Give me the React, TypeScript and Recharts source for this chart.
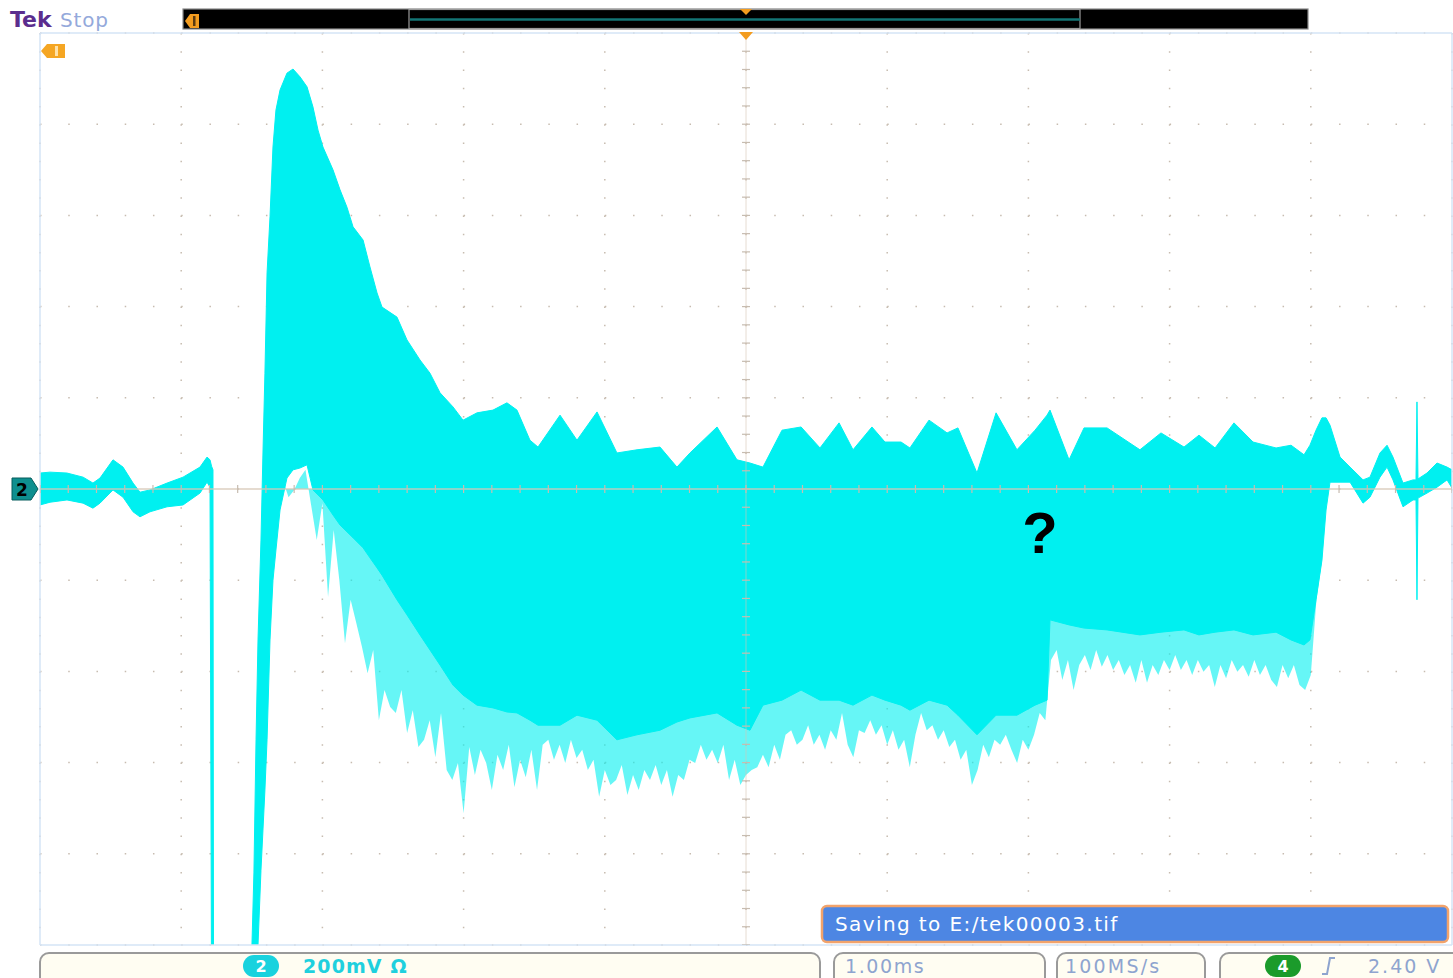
import React from 'react';
import { ComposedChart, Area, XAxis, YAxis, CartesianGrid, ReferenceLine, Scatter } from 'recharts';

// Channel 2 acquisition, time in ms (1.00 ms/div), voltage in mV (200 mV/div)
const ENV_T = [
  -5.0, -4.929, -4.809, -4.695, -4.625, -4.575, -4.483, -4.412, -4.341, -4.292,
  -4.221, -4.1, -3.987, -3.867, -3.817, -3.796, -3.785, -3.775, -3.771, -3.506,
  -3.499, -3.485, -3.47, -3.456, -3.435, -3.421, -3.407, -3.392, -3.371, -3.35,
  -3.329, -3.3, -3.251, -3.208, -3.159, -3.109, -3.067, -3.031, -2.996, -2.925,
  -2.875, -2.826, -2.783, -2.712, -2.663, -2.613, -2.578, -2.472, -2.401, -2.309,
  -2.238, -2.167, -2.075, -2.004, -1.905, -1.792, -1.693, -1.622, -1.53, -1.473,
  -1.317, -1.197, -1.055, -0.914, -0.772, -0.609, -0.489, -0.397, -0.205, -0.064,
  0.028, 0.12, 0.255, 0.39, 0.524, 0.659, 0.758, 0.892, 0.984, 1.098,
  1.161, 1.296, 1.424, 1.501, 1.636, 1.771, 1.919, 2.047, 2.132, 2.153,
  2.288, 2.394, 2.557, 2.79, 2.939, 3.102, 3.208, 3.322, 3.456, 3.591,
  3.754, 3.86, 3.952, 3.994, 4.037, 4.079, 4.108, 4.136, 4.207, 4.278,
  4.37, 4.419, 4.49, 4.54, 4.582, 4.653, 4.724, 4.745, 4.752, 4.759,
  4.823, 4.894, 4.965, 5.0,
];
const ENV_HI = [
  35, 37, 35, 26, 13, 24, 64, 48, 13, -7,
  -2, 13, 26, 48, 70, 64, 50, 42, -1090, -1090,
  -1000, -842, -550, -331, -112, 79, 254, 474, 597, 750,
  831, 875, 912, 921, 904, 882, 838, 787, 750, 700,
  656, 618, 575, 546, 487, 430, 399, 377, 327, 283,
  254, 211, 180, 151, 167, 173, 189, 173, 107, 92,
  162, 107, 169, 79, 86, 92, 48, 79, 136, 64,
  57, 48, 129, 136, 90, 145, 86, 136, 103, 103,
  90, 151, 123, 134, 35, 167, 86, 129, 162, 173,
  64, 134, 134, 86, 123, 92, 118, 90, 145, 103,
  90, 96, 75, 96, 129, 156, 156, 140, 70, 48,
  20, 26, 79, 96, 70, 13, 20, 20, 191, 22,
  35, 57, 48, 42,
];
const ENV_LO = [
  -35, -29, -24, -31, -42, -31, -2, -18, -50, -61,
  -50, -39, -35, -9, 15, 4, -1100, -1100, -1100, -1100,
  -1100, -1100, -1100, -1000, -836, -748, -660, -550, -331, -200,
  -134, -46, 24, 42, 46, 53, -2, -13, -24, -57,
  -79, -94, -107, -129, -151, -173, -189, -243, -276, -320,
  -353, -386, -430, -452, -474, -480, -489, -491, -507, -518,
  -518, -496, -507, -550, -539, -529, -511, -502, -491, -518,
  -529, -474, -463, -441, -463, -463, -474, -452, -463, -474,
  -485, -463, -474, -496, -539, -496, -496, -474, -463, -287,
  -298, -305, -309, -320, -314, -309, -320, -314, -309, -320,
  -314, -331, -342, -331, -243, -156, -46, 15, 15, 15,
  -31, -18, 26, 48, 20, -39, -24, -24, -243, -20,
  -9, 4, 20, 2,
];

// lighter ringing spikes below the burst (sampled every 0.04 ms)
const FRINGE_T = [
  -3.28, -3.24, -3.2, -3.16, -3.12, -3.08, -3.04, -3.0, -2.96, -2.92,
  -2.88, -2.84, -2.8, -2.76, -2.72, -2.68, -2.64, -2.6, -2.56, -2.52,
  -2.48, -2.44, -2.4, -2.36, -2.32, -2.28, -2.24, -2.2, -2.16, -2.12,
  -2.08, -2.04, -2.0, -1.96, -1.92, -1.88, -1.84, -1.8, -1.76, -1.72,
  -1.68, -1.64, -1.6, -1.56, -1.52, -1.48, -1.44, -1.4, -1.36, -1.32,
  -1.28, -1.24, -1.2, -1.16, -1.12, -1.08, -1.04, -1.0, -0.96, -0.92,
  -0.88, -0.84, -0.8, -0.76, -0.72, -0.68, -0.64, -0.6, -0.56, -0.52,
  -0.48, -0.44, -0.4, -0.36, -0.32, -0.28, -0.24, -0.2, -0.16, -0.12,
  -0.08, -0.04, 0.0, 0.04, 0.08, 0.12, 0.16, 0.2, 0.24, 0.28,
  0.32, 0.36, 0.4, 0.44, 0.48, 0.52, 0.56, 0.6, 0.64, 0.68,
  0.72, 0.76, 0.8, 0.84, 0.88, 0.92, 0.96, 1.0, 1.04, 1.08,
  1.12, 1.16, 1.2, 1.24, 1.28, 1.32, 1.36, 1.4, 1.44, 1.48,
  1.52, 1.56, 1.6, 1.64, 1.68, 1.72, 1.76, 1.8, 1.84, 1.88,
  1.92, 1.96, 2.0, 2.04, 2.08, 2.12, 2.16, 2.2, 2.24, 2.28,
  2.32, 2.36, 2.4, 2.44, 2.48, 2.52, 2.56, 2.6, 2.64, 2.68,
  2.72, 2.76, 2.8, 2.84, 2.88, 2.92, 2.96, 3.0, 3.04, 3.08,
  3.12, 3.16, 3.2, 3.24, 3.28, 3.32, 3.36, 3.4, 3.44, 3.48,
  3.52, 3.56, 3.6, 3.64, 3.68, 3.72, 3.76, 3.8, 3.84, 3.88,
  3.92, 3.96, 4.0, 4.04, 4.08,
];
const FRINGE_LO = [
  20, -18, -2, 24, 42, -35, -112, -31, -237, -90,
  -200, -338, -243, -294, -346, -404, -353, -507, -441, -478,
  -491, -441, -535, -485, -566, -550, -507, -588, -491, -616,
  -638, -601, -711, -566, -627, -572, -601, -660, -583, -616,
  -561, -654, -594, -632, -572, -660, -561, -550, -594, -561,
  -601, -550, -590, -572, -616, -594, -675, -616, -649, -638,
  -605, -671, -627, -660, -616, -638, -605, -649, -616, -675,
  -627, -638, -594, -601, -561, -594, -572, -601, -561, -638,
  -594, -649, -627, -616, -610, -583, -610, -561, -594, -539,
  -529, -561, -550, -518, -561, -539, -572, -529, -550, -491,
  -561, -588, -529, -535, -507, -539, -518, -561, -529, -572,
  -550, -610, -539, -491, -529, -518, -550, -529, -566, -550,
  -594, -572, -649, -616, -561, -588, -550, -561, -539, -572,
  -601, -550, -572, -539, -491, -507, -375, -353, -419, -375,
  -441, -386, -364, -397, -353, -390, -364, -397, -375, -408,
  -386, -425, -375, -425, -386, -408, -375, -397, -364, -397,
  -375, -408, -375, -401, -386, -434, -386, -415, -375, -401,
  -386, -412, -375, -408, -386, -419, -434, -386, -415, -386,
  -430, -441, -408, -243, -156,
];

const GRID_T = [-5, -4, -3, -2, -1, 0, 1, 2, 3, 4, 5];
const GRID_V = [-1000, -800, -600, -400, -200, 0, 200, 400, 600, 800, 1000];
const MINOR_T = [
  -5, -4.8, -4.6, -4.4, -4.2, -4, -3.8, -3.6, -3.4, -3.2, -3, -2.8, -2.6, -2.4, -2.2, -2,
  -1.8, -1.6, -1.4, -1.2, -1, -0.8, -0.6, -0.4, -0.2, 0, 0.2, 0.4, 0.6, 0.8, 1, 1.2, 1.4,
  1.6, 1.8, 2, 2.2, 2.4, 2.6, 2.8, 3, 3.2, 3.4, 3.6, 3.8, 4, 4.2, 4.4, 4.6, 4.8, 5,
];
const MINOR_V = [
  -1000, -960, -920, -880, -840, -800, -760, -720, -680, -640, -600, -560, -520, -480,
  -440, -400, -360, -320, -280, -240, -200, -160, -120, -80, -40, 0, 40, 80, 120, 160,
  200, 240, 280, 320, 360, 400, 440, 480, 520, 560, 600, 640, 680, 720, 760, 800, 840,
  880, 920, 960, 1000,
];

const envelope = ENV_T.map((t, i) => ({ t, lo: ENV_LO[i], hi: ENV_HI[i] }));
const fringe = FRINGE_T.map((t, i) => ({ t, sp: FRINGE_LO[i] }));
const hTicks = MINOR_T.map((t) => ({ t, v: 0 }));
const vTicks = MINOR_V.map((v) => ({ t: 0, v }));

const TRACE = '#00f0f0';
const GRAT = '#c7bcb0';
const FONT = '"DejaVu Sans", "Liberation Sans", sans-serif';
const INFO = '#8ea4cf';

const HTick = (p: any) => (
  <line x1={p.cx} x2={p.cx} y1={p.cy - 4} y2={p.cy + 4} stroke={GRAT} strokeWidth={1.2} />
);
const VTick = (p: any) => (
  <line x1={p.cx - 4} x2={p.cx + 4} y1={p.cy} y2={p.cy} stroke={GRAT} strokeWidth={1.2} />
);

export default function App() {
  return (
    <div style={{ position: 'absolute', left: 0, top: 0, width: 1453, height: 978, background: '#fff', overflow: 'hidden' }}>
      <ComposedChart width={1453} height={978} margin={{ top: 33, right: 1, bottom: 33, left: 40 }}>
        <XAxis type="number" dataKey="t" domain={[-5, 5]} ticks={GRID_T} hide allowDataOverflow />
        <YAxis type="number" dataKey="v" domain={[-1000, 1000]} ticks={GRID_V} hide allowDataOverflow />
        <XAxis xAxisId="top" orientation="top" mirror type="number" domain={[-5, 5]} ticks={MINOR_T}
          interval={0} height={0} axisLine={false} tick={false} tickSize={5} stroke={GRAT} allowDataOverflow />
        <XAxis xAxisId="bottom" orientation="bottom" mirror type="number" domain={[-5, 5]} ticks={MINOR_T}
          interval={0} height={0} axisLine={false} tick={false} tickSize={5} stroke={GRAT} allowDataOverflow />
        <YAxis yAxisId="left" orientation="left" mirror type="number" domain={[-1000, 1000]} ticks={MINOR_V}
          interval={0} width={0} axisLine={false} tick={false} tickSize={5} stroke={GRAT} allowDataOverflow />
        <YAxis yAxisId="right" orientation="right" mirror type="number" domain={[-1000, 1000]} ticks={MINOR_V}
          interval={0} width={0} axisLine={false} tick={false} tickSize={5} stroke={GRAT} allowDataOverflow />

        <Area data={fringe} dataKey="sp" baseValue={0} type="linear" stroke="none" fill={TRACE}
          fillOpacity={0.6} isAnimationActive={false} />
        <Area data={envelope} dataKey={(d: any) => [d.lo, d.hi]} type="linear" stroke={TRACE} strokeWidth={1}
          fill={TRACE} fillOpacity={1} isAnimationActive={false} />

        <CartesianGrid horizontal={false} stroke={GRAT} strokeWidth={1.5} strokeDasharray="1.5 16.74" />
        <CartesianGrid vertical={false} stroke={GRAT} strokeWidth={1.5} strokeDasharray="1.5 26.74" />
        <ReferenceLine y={0} stroke="#d6c7b5" strokeWidth={1.5} strokeOpacity={0.85} />
        <ReferenceLine x={0} stroke="#d6c7b5" strokeWidth={1} strokeOpacity={0.6} />
        <ReferenceLine x={-5} stroke="#d4e4f6" strokeWidth={1.5} />
        <ReferenceLine x={5} stroke="#d4e4f6" strokeWidth={1.5} />
        <ReferenceLine y={1000} stroke="#d4e4f6" strokeWidth={1.5} />
        <ReferenceLine y={-1000} stroke="#d4e4f6" strokeWidth={1.5} />
        <Scatter data={hTicks} dataKey="v" shape={HTick} isAnimationActive={false} />
        <Scatter data={vTicks} dataKey="v" shape={VTick} isAnimationActive={false} />
      </ComposedChart>

      <svg width={1453} height={978} style={{ position: 'absolute', left: 0, top: 0, pointerEvents: 'none' }}>
        {/* header */}
        <text x={10} y={27} fontFamily={FONT} fontWeight="bold" fontSize={22} fill="#5b2d8e">Tek</text>
        <text x={60} y={27} fontFamily={FONT} fontSize={20} letterSpacing={0.8} fill="#94a9db">Stop</text>
        <rect x={183} y={9} width={1125} height={20} fill="#000" stroke="#8a8a8a" strokeWidth={1.2} />
        <rect x={409} y={9.5} width={671} height={19} fill="none" stroke="#9a9a9a" strokeWidth={1.2} />
        <line x1={410} x2={1080} y1={19.5} y2={19.5} stroke="#137575" strokeWidth={2.5} />
        <polygon points="185,21 190,14 199,14 199,28 190,28" fill="#f39c1f" />
        <rect x={193} y={16} width={2.5} height={10} fill="#5a3a10" />
        <polygon points="740,9 752,9 746,15" fill="#f39c1f" />
        <polygon points="739,32 753,32 746,40" fill="#f39c1f" />
        <polygon points="41,51 47,44 65,44 65,58 47,58" fill="#f5a623" />
        <rect x={55} y={46} width={3} height={10} fill="#ffe2a8" />

        {/* channel 2 ground marker */}
        <polygon points="12,478 31,478 38,489 31,500 12,500" fill="#0e8f8f" stroke="#075c5c" strokeWidth={1} />
        <text x={16} y={496} fontFamily={FONT} fontWeight="bold" fontSize={17} fill="#000">2</text>

        {/* annotation */}
        <text x={1040} y={553} textAnchor="middle" fontFamily='"Liberation Sans", Arial, sans-serif'
          fontWeight="bold" fontSize={58} fill="#000">?</text>

        {/* saving message */}
        <rect x={822} y={906} width={626} height={36} rx={5} fill="#4d86e3" stroke="#f2a36b" strokeWidth={2.5} />
        <text x={835} y={931} fontFamily={FONT} fontSize={20} letterSpacing={1.4} fill="#fff">Saving to E:/tek00003.tif</text>

        {/* bottom info bar */}
        <rect x={40} y={953} width={780} height={34} rx={9} fill="#fffdf2" stroke="#9a9a9a" strokeWidth={2} />
        <rect x={243} y={955} width={36} height={22} rx={11} fill="#19d2de" />
        <text x={261} y={972} textAnchor="middle" fontFamily={FONT} fontWeight="bold" fontSize={16} fill="#fff">2</text>
        <text x={303} y={973} fontFamily={FONT} fontWeight="bold" fontSize={19} letterSpacing={1.1} fill="#1fd0de">200mV Ω</text>

        <rect x={834} y={953} width={211} height={34} rx={9} fill="#fffdf2" stroke="#9a9a9a" strokeWidth={2} />
        <text x={845} y={973} fontFamily={FONT} fontSize={19} letterSpacing={1.6} fill={INFO}>1.00ms</text>

        <rect x={1057} y={953} width={148} height={34} rx={9} fill="#fffdf2" stroke="#9a9a9a" strokeWidth={2} />
        <text x={1065} y={973} fontFamily={FONT} fontSize={19} letterSpacing={2.2} fill={INFO}>100MS/s</text>

        <rect x={1220} y={953} width={250} height={34} rx={9} fill="#fffdf2" stroke="#9a9a9a" strokeWidth={2} />
        <rect x={1265} y={955} width={36} height={22} rx={11} fill="#1b9b2b" />
        <text x={1283} y={972} textAnchor="middle" fontFamily={FONT} fontWeight="bold" fontSize={16} fill="#fff">4</text>
        <path d="M1322,974 L1327,974 L1330,958 L1335,958" fill="none" stroke={INFO} strokeWidth={2} />
        <text x={1368} y={973} fontFamily={FONT} fontSize={19} letterSpacing={2} fill={INFO}>2.40 V</text>
      </svg>
    </div>
  );
}
